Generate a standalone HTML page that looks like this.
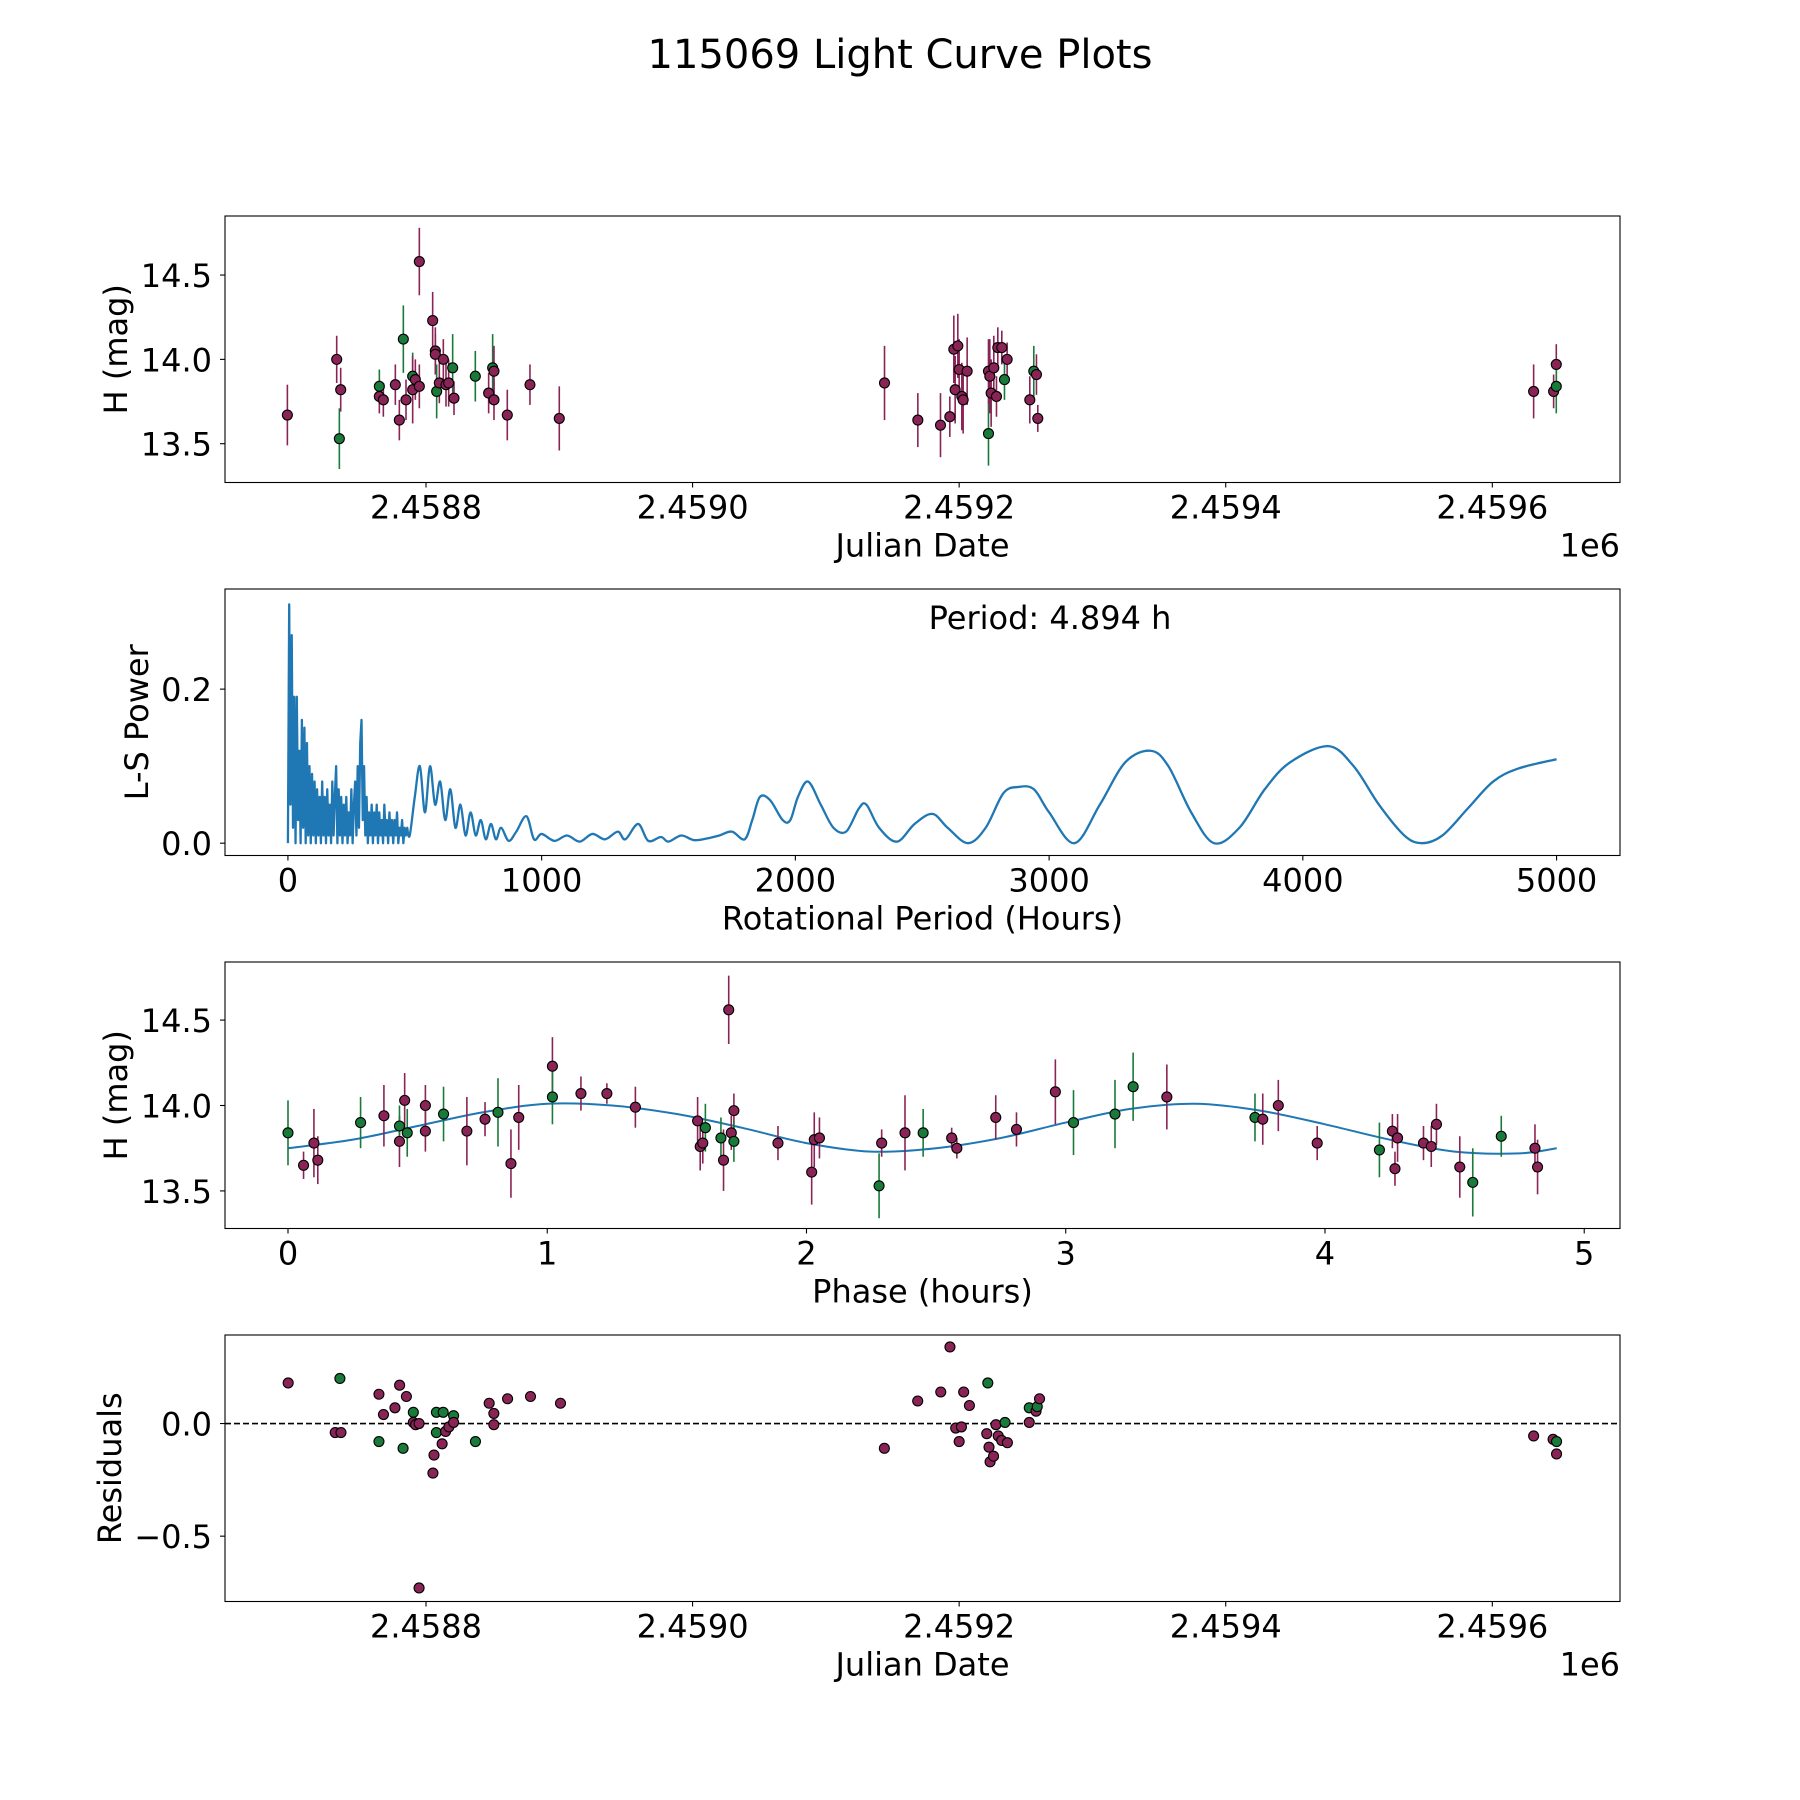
<!DOCTYPE html>
<html><head><meta charset="utf-8"><style>
html,body{margin:0;padding:0;background:#fff;}
svg{display:block;font-family:"DejaVu Sans","Liberation Sans",sans-serif;}
</style></head><body>
<svg id="fig" width="1800" height="1800" viewBox="0 0 1800 1800" xmlns="http://www.w3.org/2000/svg">
<text x="900" y="68" font-size="40" text-anchor="middle">115069 Light Curve Plots</text>
</svg>
<script>
// ---- Panel 1: light curve (JD - 2458000) ----
const lcJD = [696,733,735,736,765,765,768,777,780,783,785,790,790,792,795,795,805,807,807,808,810,813,815,817,820,821,837,847,850,851,851,861,878,900,
1144,1169,1186,1193,1197,1200,1202,1203,1206,1196,1199,1222,1222,1223,1224,1226,1228,1229,1232,1234,1236,1253,1256,1258,1259,
1631,1646,1648,1648];
const lcMag = [13.67,14.0,13.53,13.82,13.84,13.78,13.76,13.85,13.64,14.12,13.76,13.9,13.82,13.88,14.58,13.84,14.23,14.05,14.03,13.81,13.86,14.0,13.85,13.86,13.95,13.77,13.9,13.8,13.95,13.93,13.76,13.67,13.85,13.65,
13.86,13.64,13.61,13.66,13.82,13.94,13.78,13.76,13.93,14.06,14.08,13.56,13.93,13.9,13.8,13.95,13.78,14.07,14.07,13.88,14.0,13.76,13.93,13.91,13.65,
13.81,13.81,13.97,13.84];
const lcErr = [0.18,0.14,0.18,0.13,0.1,0.1,0.1,0.12,0.12,0.2,0.12,0.14,0.2,0.12,0.2,0.13,0.17,0.14,0.12,0.16,0.12,0.12,0.13,0.14,0.2,0.1,0.15,0.12,0.2,0.15,0.12,0.15,0.12,0.19,
0.22,0.16,0.19,0.12,0.2,0.18,0.2,0.2,0.2,0.2,0.19,0.19,0.19,0.22,0.2,0.19,0.12,0.12,0.1,0.12,0.1,0.14,0.15,0.12,0.08,
0.16,0.1,0.12,0.16];
const lcGreen = [0,0,1,0,1,0,0,0,0,1,0,1,0,0,0,0,0,0,0,1,0,0,0,0,1,0,1,0,1,0,0,0,0,0,
0,0,0,0,0,0,0,0,0,0,0,1,0,0,0,0,0,0,0,1,0,0,1,0,0,
0,0,0,1];
// ---- Panel 2: periodogram ----
const pDense = [0,0.31,0.05,0.27,0.02,0.19,0,0.19,0.03,0.12,0,0.16,0.02,0.15,0,0.13,0.01,0.1,0,0.09,0.01,0.08,0,0.07,0.01,0.06,0,0.08,0.01,0.06,0,0.07,0.01,0.05,0,0.08,0.01,0.06,0.1,0,0.07,0.01,0.06,0,0.05,0.01,0.06,0,0.04,0.01,0.07,0,0.05,0.08,0.01,0.1,0.02,0.13,0.16,0.03,0.1,0.01,0.06,0,0.04,0.01,0.05,0,0.04,0.01,0.05,0,0.04,0.01,0.03,0,0.05,0.01,0.03,0,0.04,0.01,0.03,0,0.03,0.01,0.04,0,0.02,0.01,0.03,0,0.02,0.01,0.02];
const pDenseStep = 5;
const pSmoothPeriod = [480,500,520,540,560,580,600,620,640,660,680,700,720,740,760,780,800,820,840,870,900,940,970,1000,1050,1100,1150,1200,1250,1300,1330,1380,1420,1470,1500,1550,1600,1650,1700,1750,1800,1830,1860,1900,1950,1980,2010,2050,2100,2150,2200,2250,2280,2330,2400,2470,2540,2600,2680,2750,2820,2880,2940,3000,3100,3200,3300,3400,3470,3560,3650,3750,3850,3950,4100,4200,4300,4400,4470,4550,4650,4750,4850,5000];
const pSmoothPower = [0.01,0.06,0.1,0.04,0.1,0.05,0.08,0.03,0.07,0.02,0.05,0.01,0.04,0.01,0.03,0.005,0.025,0.005,0.02,0.003,0.015,0.035,0.005,0.012,0.003,0.01,0.002,0.012,0.005,0.015,0.005,0.025,0.003,0.008,0.002,0.01,0.004,0.006,0.01,0.015,0.005,0.03,0.06,0.056,0.03,0.03,0.06,0.08,0.05,0.02,0.015,0.045,0.05,0.02,0.002,0.025,0.038,0.02,0.0,0.02,0.065,0.073,0.07,0.04,0.0,0.05,0.105,0.12,0.1,0.04,0.0,0.02,0.07,0.105,0.126,0.1,0.05,0.01,0.0,0.01,0.045,0.08,0.097,0.109];
// ---- Panel 3: phase-folded ----
const phX = [0.0,0.06,0.1,0.115,0.28,0.37,0.43,0.43,0.45,0.46,0.53,0.53,0.6,0.69,0.76,0.81,0.86,0.89,1.02,1.02,1.13,1.23,1.34,1.58,1.59,1.6,1.61,1.67,1.68,1.7,1.71,1.72,1.72,1.89,2.02,2.03,2.05,2.28,2.29,2.38,2.45,2.56,2.58,2.73,2.81,2.96,3.03,3.19,3.26,3.39,3.73,3.76,3.82,3.97,4.21,4.26,4.27,4.28,4.38,4.41,4.43,4.52,4.57,4.68,4.81,4.82];
const phMag = [13.84,13.65,13.78,13.68,13.9,13.94,13.79,13.88,14.03,13.84,14.0,13.85,13.95,13.85,13.92,13.96,13.66,13.93,14.23,14.05,14.07,14.07,13.99,13.91,13.76,13.78,13.87,13.81,13.68,14.56,13.84,13.97,13.79,13.78,13.61,13.8,13.81,13.53,13.78,13.84,13.84,13.81,13.75,13.93,13.86,14.08,13.9,13.95,14.11,14.05,13.93,13.92,14.0,13.78,13.74,13.85,13.63,13.81,13.78,13.76,13.89,13.64,13.55,13.82,13.75,13.64];
const phErr = [0.19,0.08,0.2,0.14,0.15,0.18,0.15,0.12,0.16,0.14,0.12,0.12,0.16,0.2,0.1,0.2,0.2,0.19,0.17,0.16,0.1,0.06,0.12,0.14,0.14,0.12,0.14,0.12,0.18,0.2,0.1,0.1,0.12,0.1,0.19,0.16,0.12,0.19,0.08,0.22,0.14,0.06,0.06,0.13,0.1,0.19,0.19,0.2,0.2,0.19,0.14,0.15,0.15,0.1,0.16,0.1,0.1,0.14,0.1,0.12,0.12,0.18,0.2,0.12,0.14,0.16];
const phGreen = [1,0,0,0,1,0,0,1,0,1,0,0,1,0,0,1,0,0,0,1,0,0,0,0,0,0,1,1,0,0,0,0,1,0,0,0,0,1,0,0,1,0,0,0,0,0,1,1,1,0,1,0,0,0,1,0,0,0,0,0,0,0,1,1,0,0];
const fitX = [0,0.25,0.5,0.75,1.0,1.25,1.5,1.75,2.0,2.25,2.5,2.75,3.0,3.25,3.5,3.75,4.0,4.25,4.5,4.75,4.894];
const fitY = [13.75,13.8,13.88,13.96,14.01,14.0,13.95,13.87,13.78,13.73,13.75,13.81,13.9,13.98,14.01,13.97,13.89,13.8,13.73,13.72,13.75];
// ---- Panel 4: residuals ----
const resJD = [696.6,735.4,731.9,736.2,764.7,764.7,768.1,776.7,780.2,782.8,785.3,790.5,790.5,792.2,794.8,794.8,805.2,806,807.8,807.8,812.1,812.9,814.7,817.2,820.7,820.7,837.1,847.4,850.9,850.9,861.2,878.4,900.9,
1143.9,1168.9,1186.2,1193.1,1197.4,1200,1201.7,1203.4,1207.7,1221.5,1220.7,1222.4,1223.2,1225.8,1227.6,1229.3,1231.9,1234.4,1236.2,1252.6,1252.6,1257.7,1258.6,1260.3,
1631,1645.6,1648.2,1648.2];
const resVal = [0.18,0.20,-0.04,-0.04,-0.08,0.13,0.04,0.07,0.17,-0.11,0.12,0.05,0.005,-0.005,-0.73,0.0,-0.22,-0.14,-0.04,0.05,-0.09,0.05,-0.035,-0.015,0.035,0.005,-0.08,0.09,0.045,-0.005,0.11,0.12,0.09,
-0.11,0.10,0.14,0.34,-0.02,-0.08,-0.015,0.14,0.08,0.18,-0.045,-0.105,-0.17,-0.145,-0.005,-0.055,-0.075,0.005,-0.085,0.07,0.005,0.055,0.075,0.11,
-0.055,-0.07,-0.08,-0.135];
const resGreen = [0,1,0,0,1,0,0,0,0,1,0,1,0,0,0,0,0,0,1,1,0,1,0,0,1,0,1,0,0,0,0,0,0,
0,0,0,0,0,0,0,0,0,1,0,0,0,0,0,0,0,1,0,1,0,0,1,0,
0,0,1,0];

const NS='http://www.w3.org/2000/svg';
const svg=document.getElementById('fig');
const MAR='#8a2456', GRN='#1a7a3a';
const L=225,R=1620,H=266.5,FS=32;
function el(tag,attrs,parent){const e=document.createElementNS(NS,tag);for(const k in attrs)e.setAttribute(k,attrs[k]);(parent||svg).appendChild(e);return e;}
function lin(d0,d1,r0,r1){return v=>r0+(v-d0)/(d1-d0)*(r1-r0);}

function axes(name,top,xdom,ydom,xticks,xlabs,yticks,ylabs,xlabel,ylabel,off){
  const g=el('g',{});
  
  
  const sx=lin(xdom[0],xdom[1],L,R), sy=lin(ydom[0],ydom[1],top+H,top);
  xticks.forEach((t,i)=>{const x=sx(t);
    el('line',{x1:x,x2:x,y1:top+H,y2:top+H+5,stroke:'#000','stroke-width':1.1},g);
    const tx=el('text',{x:x,y:top+H+36,'font-size':FS,'text-anchor':'middle'},g);tx.textContent=xlabs[i];
    
    });
  yticks.forEach((t,i)=>{const y=sy(t);
    el('line',{x1:L-5,x2:L,y1:y,y2:y,stroke:'#000','stroke-width':1.1},g);
    const tx=el('text',{x:L-13,y:y+12,'font-size':FS,'text-anchor':'end'},g);tx.textContent=ylabs[i];
    
    });
  const xl=el('text',{x:(L+R)/2,y:top+H+74,'font-size':FS,'text-anchor':'middle'},g);xl.textContent=xlabel;
  
  
  const yy=top+H/2;
  const yl=el('text',{x:0,y:0,'font-size':FS,'text-anchor':'middle',transform:`translate(${off},${yy}) rotate(-90)`},g);yl.textContent=ylabel;
  
  
  return {g,sx,sy,top};
}
function frame(a){const r=el('rect',{x:L,y:a.top,width:R-L,height:H,fill:'none',stroke:'#000','stroke-width':1.1},a.g);
  
  }
function point(g,x,y,green){const c=el('circle',{cx:x,cy:y,r:5,fill:green?GRN:MAR,stroke:'#000','stroke-width':1.1},g);
  
  }
function ebar(g,x,y0,y1,green){const l=el('line',{x1:x,x2:x,y1:y0,y2:y1,stroke:green?GRN:MAR,'stroke-width':1.6},g);
  
  }
const jdTicks=[800,1000,1200,1400,1600], jdLabs=['2.4588','2.4590','2.4592','2.4594','2.4596'];
const JDDOM=[649.2,1695.8];

// Panel 1
const t1=216;
const a1=axes('light-curve-panel',t1,JDDOM,[13.27,14.85],jdTicks,jdLabs,[13.5,14,14.5],['13.5','14.0','14.5'],'Julian Date','H (mag)',127);
lcJD.forEach((j,i)=>ebar(a1.g,a1.sx(j),a1.sy(lcMag[i]-lcErr[i]),a1.sy(lcMag[i]+lcErr[i]),lcGreen[i]));
lcJD.forEach((j,i)=>point(a1.g,a1.sx(j),a1.sy(lcMag[i]),lcGreen[i]));
frame(a1);
{const t=el('text',{x:1620,y:t1+H+74,'font-size':FS,'text-anchor':'end'},a1.g);t.textContent='1e6';

}

// Panel 2
const t2=589;
const a2=axes('periodogram-panel',t2,[-248,5250],[-0.016,0.33],[0,1000,2000,3000,4000,5000],['0','1000','2000','3000','4000','5000'],[0,0.2],['0.0','0.2'],'Rotational Period (Hours)','L-S Power',148);
{const pts=[];pDense.forEach((p,i)=>pts.push([a2.sx(i*pDenseStep),a2.sy(p)]));
 let d='M'+pts.map(p=>p[0].toFixed(2)+','+p[1].toFixed(2)).join(' L');
 const sp=pSmoothPeriod.map((p,i)=>[a2.sx(p),a2.sy(pSmoothPower[i])]);
 const all=[pts[pts.length-1]].concat(sp);
 for(let i=0;i<all.length-1;i++){const p0=all[Math.max(i-1,0)],p1=all[i],p2=all[i+1],p3=all[Math.min(i+2,all.length-1)];
   const c1=[p1[0]+(p2[0]-p0[0])/6,p1[1]+(p2[1]-p0[1])/6],c2=[p2[0]-(p3[0]-p1[0])/6,p2[1]-(p3[1]-p1[1])/6];
   d+=` C${c1[0].toFixed(2)},${c1[1].toFixed(2)} ${c2[0].toFixed(2)},${c2[1].toFixed(2)} ${p2[0].toFixed(2)},${p2[1].toFixed(2)}`;}
 const pl=el('path',{d:d,fill:'none',stroke:'#1f77b4','stroke-width':2.3,'stroke-linejoin':'round'},a2.g);
 
 }
frame(a2);
{const t=el('text',{x:1050,y:629,'font-size':FS,'text-anchor':'middle'},a2.g);t.textContent='Period: 4.894 h';

}

// Panel 3
const t3=962;
const a3=axes('phase-fold-panel',t3,[-0.243,5.138],[13.28,14.84],[0,1,2,3,4,5],['0','1','2','3','4','5'],[13.5,14,14.5],['13.5','14.0','14.5'],'Phase (hours)','H (mag)',127);
{const pts=fitX.map((x,i)=>[a3.sx(x),a3.sy(fitY[i])]);
 let dd='M'+pts[0][0]+','+pts[0][1];
 for(let i=0;i<pts.length-1;i++){const p0=pts[Math.max(i-1,0)],p1=pts[i],p2=pts[i+1],p3=pts[Math.min(i+2,pts.length-1)];
   dd+=` C${p1[0]+(p2[0]-p0[0])/6},${p1[1]+(p2[1]-p0[1])/6} ${p2[0]-(p3[0]-p1[0])/6},${p2[1]-(p3[1]-p1[1])/6} ${p2[0]},${p2[1]}`;}
 const fl=el('path',{d:dd,fill:'none',stroke:'#1f77b4','stroke-width':2},a3.g);
 
 }
phX.forEach((x,i)=>ebar(a3.g,a3.sx(x),a3.sy(phMag[i]-phErr[i]),a3.sy(phMag[i]+phErr[i]),phGreen[i]));
phX.forEach((x,i)=>point(a3.g,a3.sx(x),a3.sy(phMag[i]),phGreen[i]));
frame(a3);

// Panel 4
const t4=1335;
const a4=axes('residuals-panel',t4,JDDOM,[-0.79,0.393],jdTicks,jdLabs,[-0.5,0],['\u22120.5','0.0'],'Julian Date','Residuals',121);
{const y=a4.sy(0);const l=el('line',{x1:L,x2:R,y1:y,y2:y,stroke:'#000','stroke-width':1.6,'stroke-dasharray':'6,3'},a4.g);
 
 }
resJD.forEach((j,i)=>point(a4.g,a4.sx(j),a4.sy(resVal[i]),resGreen[i]));
frame(a4);
{const t=el('text',{x:1620,y:t4+H+74,'font-size':FS,'text-anchor':'end'},a4.g);t.textContent='1e6';

}
</script>
</body></html>
